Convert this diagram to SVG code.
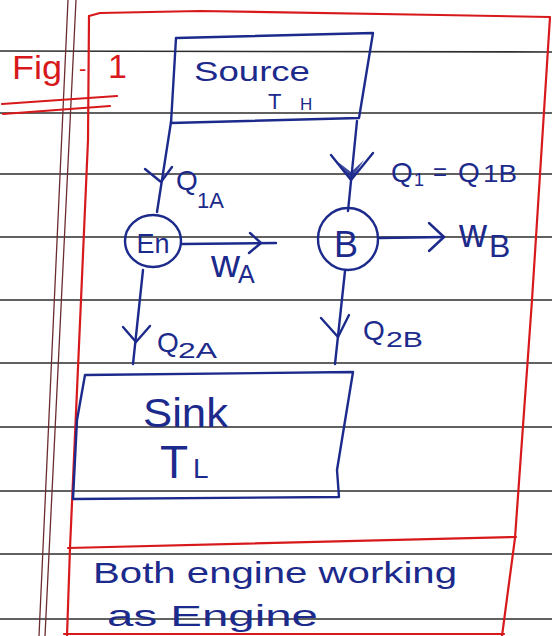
<svg xmlns="http://www.w3.org/2000/svg" width="552" height="636" viewBox="0 0 552 636">
<style>
.rule{stroke:#2e2e2e;stroke-width:1.6;fill:none}
.margin{stroke:#6b2c30;stroke-width:1.3;fill:none}
.red{stroke:#d7191c;stroke-width:2.2;fill:none;stroke-linecap:round;stroke-linejoin:round}
.ink{stroke:#1c2a8c;stroke-width:2.4;fill:none;stroke-linecap:round;stroke-linejoin:round}
.t{font-family:"Liberation Sans",Arial,sans-serif;fill:#1c2a8c}
.rt{font-family:"Liberation Sans",Arial,sans-serif;fill:#d7191c}
</style>
<rect x="0" y="0" width="552" height="636" fill="#ffffff"/>
<g id="page">
<path class="rule" d="M0,51 L552,52 M0,113 L552,113 M0,174 L552,174 M0,237 L552,237 M0,300 L552,300 M0,363 L552,363 M0,427 L552,427 M0,491 L552,491 M0,554 L552,554 M0,619 L552,619"/>
<path class="margin" d="M68,0 L39,636 M76,0 L45,636"/>
<path class="red" d="M89,16 L100,13 L200,11 L440,15 L550,17 L532,300 L515,538 L502,636"/>
<path class="red" d="M89,16 L88,140 L81,300 L70,548 L67,636"/>
<path class="red" d="M68,548 L516,537"/>
<path class="red" d="M64,634 L504,634"/>
</g>
<g id="fig-label">
<text class="rt" font-size="34"><tspan x="12" y="79" textLength="50" lengthAdjust="spacingAndGlyphs">Fig</tspan><tspan x="79" y="76" font-size="22">-</tspan><tspan x="108" y="78">1</tspan></text>
<path class="red" d="M2,104 L117,96 M3,114 L110,106"/>
</g>
<g id="connectors">
<path class="ink" d="M171,122 L157,212"/>
<path class="ink" d="M145,169 L161,182 L172,167"/>
<path class="ink" d="M357,121 L348,211"/>
<path class="ink" d="M331,155 L351,180 L373,153" stroke-width="3.2"/>
<path d="M338,162 L351,180 L364,160 L351,172 Z" fill="#1c2a8c" opacity="0.85"/>
<path class="ink" d="M182,244 L276,243"/>
<path class="ink" d="M250,233 L261,243 L249,253"/>
<path class="ink" d="M380,238 L444,237"/>
<path class="ink" d="M429,223 L444,237 L429,251"/>
<path class="ink" d="M143,270 L133,364"/>
<path class="ink" d="M123,327 L136,342 L150,326"/>
<path class="ink" d="M345,271 L335,364"/>
<path class="ink" d="M321,318 L338,337 L349,315"/>
</g>
<g id="source">
<path class="ink" d="M176,38 L373,33 L359,118 L171,123 Z"/>
<text class="t" x="194" y="81" font-size="27" textLength="116" lengthAdjust="spacingAndGlyphs">Source</text>
<text class="t" font-size="22"><tspan x="268" y="109">T</tspan><tspan x="300" y="110" font-size="17">H</tspan></text>
</g>
<g id="engine-a">
<ellipse class="ink" cx="153" cy="241" rx="28" ry="26"/>
<text class="t" x="153" y="253" font-size="27" text-anchor="middle">En</text>
</g>
<g id="label-q1a">
<text class="t" font-size="28"><tspan x="176" y="190">Q</tspan><tspan x="197" y="208" font-size="22">1A</tspan></text>
</g>
<g id="label-wa">
<text class="t" font-size="38"><tspan x="211" y="277" textLength="29" lengthAdjust="spacingAndGlyphs">w</tspan><tspan x="238" y="283" font-size="25">A</tspan></text>
</g>
<g id="engine-b">
<ellipse class="ink" cx="348" cy="239" rx="30" ry="31"/>
<text class="t" x="346" y="257" font-size="36" text-anchor="middle">B</text>
</g>
<g id="label-q1b">
<text class="t" font-size="28"><tspan x="391" y="182">Q</tspan><tspan x="414" y="186" font-size="18">1</tspan><tspan x="433" y="180" font-size="24">=</tspan><tspan x="458" y="182">Q</tspan><tspan x="483" y="182" font-size="24" textLength="34" lengthAdjust="spacingAndGlyphs">1B</tspan></text>
</g>
<g id="label-wb">
<text class="t" font-size="40"><tspan x="459" y="247" textLength="28" lengthAdjust="spacingAndGlyphs">w</tspan><tspan x="489" y="257" font-size="32">B</tspan></text>
</g>
<g id="label-q2a">
<text class="t" font-size="28"><tspan x="157" y="352">Q</tspan><tspan x="178" y="358" font-size="22" textLength="39" lengthAdjust="spacingAndGlyphs">2A</tspan></text>
</g>
<g id="label-q2b">
<text class="t" font-size="28"><tspan x="363" y="340">Q</tspan><tspan x="386" y="347" font-size="22" textLength="37" lengthAdjust="spacingAndGlyphs">2B</tspan></text>
</g>
<g id="sink">
<path class="ink" d="M85,375 L353,372 L337,470 L339,497 L73,499 L77,420 Z"/>
<text class="t" x="143" y="427" font-size="40" textLength="85" lengthAdjust="spacingAndGlyphs">Sink</text>
<text class="t" font-size="46"><tspan x="160" y="478">T</tspan><tspan x="193" y="478" font-size="28">L</tspan></text>
</g>
<g id="note">
<text class="t" x="93" y="583" font-size="30" textLength="364" lengthAdjust="spacingAndGlyphs">Both engine working</text>
<text class="t" x="107" y="626" font-size="30" textLength="211" lengthAdjust="spacingAndGlyphs">as Engine</text>
</g>
</svg>
